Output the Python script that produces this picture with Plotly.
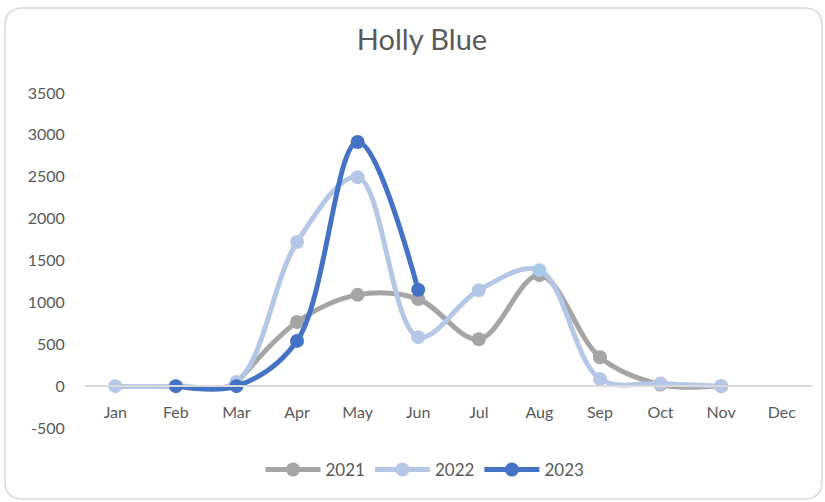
import plotly.graph_objects as go

months = ["Jan", "Feb", "Mar", "Apr", "May", "Jun", "Jul", "Aug", "Sep", "Oct", "Nov", "Dec"]
y2021 = [None, None, 30, 765, 1090, 1040, 560, 1325, 345, 20, 0, None]
y2022 = [0, 0, 50, 1720, 2495, 585, 1145, 1385, 85, 30, 0, None]
y2023 = [None, 0, 0, 540, 2915, 1150, None, None, None, None, None, None]
ytick_vals = [-500, 0, 500, 1000, 1500, 2000, 2500, 3000, 3500]
ytick_text = ["-500", "0", "500", "1000", "1500", "2000", "2500", "3000", "3500"]

W, H = 825, 502
ML, MR, MT, MB = 85, 13, 93, 74
PW, PH = W - ML - MR, H - MT - MB

def px(x):
    return (x - ML) / PW

def py(y):
    return (H - MB - y) / PH

fig = go.Figure()
series = [("2021", y2021, "#A5A5A5"), ("2022", y2022, "#B4C7E7"), ("2023", y2023, "#4472C4")]
for name, ys, col in series:
    mcol = [col] * len(ys)
    if name == "2022":
        mcol[7] = "#A9CBEA"
    fig.add_trace(go.Scatter(
        x=months, y=ys, name=name, mode="lines+markers",
        line=dict(color=col, width=5, shape="spline", smoothing=1.0),
        marker=dict(color=mcol, size=14),
        connectgaps=False,
    ))

# rounded border
x0, x1, y0, y1, r = 5, 822, 8, 499, 18
rx, ry = r / PW, r / PH
X0, X1, Y0, Y1 = px(x0), px(x1), py(y0), py(y1)
path = (f"M {X0+rx},{Y0} L {X1-rx},{Y0} Q {X1},{Y0} {X1},{Y0-ry} "
        f"L {X1},{Y1+ry} Q {X1},{Y1} {X1-rx},{Y1} L {X0+rx},{Y1} "
        f"Q {X0},{Y1} {X0},{Y1+ry} L {X0},{Y0-ry} Q {X0},{Y0} {X0+rx},{Y0} Z")

fig.update_layout(
    width=W, height=H,
    margin=dict(l=ML, r=MR, t=MT, b=MB),
    paper_bgcolor="white", plot_bgcolor="white",
    font=dict(family="Lato, Open Sans, sans-serif", color="#595959", size=16),
    title=dict(text="Holly Blue", x=422 / W, xanchor="center", y=1 - 40 / H, yanchor="middle",
               font=dict(size=29, color="#595959")),
    showlegend=True,
    legend=dict(orientation="h", x=px(425), xanchor="center", y=py(470), yanchor="middle",
                font=dict(size=17, color="#595959"), itemwidth=55, tracegroupgap=0),
    shapes=[dict(type="path", xref="paper", yref="paper", path=path,
                 line=dict(color="#D9D9D9", width=1.5), fillcolor="rgba(0,0,0,0)", layer="below")],
    xaxis=dict(type="category", categoryarray=months, range=[-0.5, 11.5],
               showgrid=False, showline=True, linecolor="#D9D9D9", linewidth=1.5,
               anchor="free", position=0.125, ticks="outside", ticklen=12,
               tickcolor="rgba(0,0,0,0)", tickfont=dict(size=16, color="#595959"),
               zeroline=False),
    yaxis=dict(range=[-500, 3500], tickvals=ytick_vals, ticktext=ytick_text,
               showgrid=False, zeroline=False,
               showline=False, ticks="outside", ticklen=16, tickcolor="rgba(0,0,0,0)",
               tickfont=dict(size=16, color="#595959")),
)

fig.write_html("out.html")
